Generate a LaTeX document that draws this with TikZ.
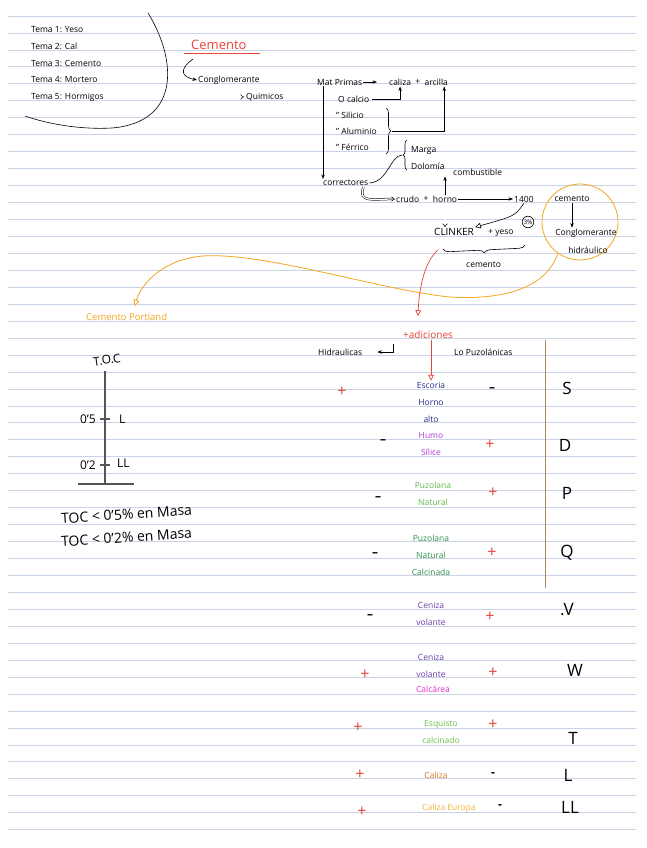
\documentclass[tikz,border=0pt]{standalone}
\usepackage{fontspec}
\setmainfont{Open Sans}
\usepackage{xcolor}
\definecolor{cRule}{HTML}{C9D3E6}
\definecolor{cRed}{HTML}{E8433A}
\definecolor{cOrange}{HTML}{F5A623}
\definecolor{cBrown}{HTML}{A5865F}
\definecolor{cAxis}{HTML}{555555}
\definecolor{cEsc}{HTML}{2B2B8F}
\definecolor{cHumo}{HTML}{B43BD6}
\definecolor{cPuzA}{HTML}{5DBB4C}
\definecolor{cPuzB}{HTML}{2F8F4E}
\definecolor{cCen}{HTML}{6A3FA8}
\definecolor{cCalc}{HTML}{E62BD0}
\definecolor{cEsq}{HTML}{6CC24A}
\definecolor{cCaliza}{HTML}{D77B2C}
\definecolor{cEur}{HTML}{F2B630}
\usetikzlibrary{positioning,arrows.meta,decorations.pathreplacing,calc}
\newcommand\notesize{\fontsize{8.5}{10}\selectfont}
\tikzset{
  rule/.style={draw=cRule,line width=0.7pt},
  ink/.style={draw=black,line width=0.6pt},
  note/.style={font=\notesize,inner sep=1pt,anchor=west},
  mid/.style={font=\notesize,inner sep=1pt},
  rowtext/.style={font=\fontsize{8.5}{17}\selectfont,inner sep=1pt,align=center},
  title/.style={font=\fontsize{13}{14}\selectfont,text=cRed,inner sep=1pt,anchor=west},
  red-text/.style={font=\fontsize{10}{12}\selectfont,text=cRed,inner sep=1pt,anchor=west},
  orange-text/.style={font=\fontsize{9.5}{11}\selectfont,text=cOrange,inner sep=1pt,anchor=west},
  bigletter/.style={font=\fontsize{17}{17}\selectfont,inner sep=0pt},
  mednote/.style={font=\fontsize{12}{13}\selectfont,inner sep=1pt},
  toc-text/.style={font=\fontsize{14}{15}\selectfont,inner sep=1pt,anchor=west},
  plus/.style={text=cRed,font=\fontsize{16}{16}\selectfont,inner sep=0pt},
  minus/.style={font=\fontsize{12}{12}\selectfont\bfseries,inner sep=0pt},
  arrow/.style={-{Stealth[length=1.6mm]},ink},
  arrow-open/.style={-{Triangle[open,length=2mm,width=2mm]},ink},
  dbl/.style={double,double distance=1.3pt,line width=0.5pt,-{Implies}},
  red-line/.style={draw=cRed,line width=0.7pt},
  red-arrow/.style={red-line,-{Triangle[open,length=2mm,width=2mm]}},
  or-arrow/.style={draw=cOrange,line width=0.8pt,-{Triangle[open,length=2.2mm,width=2.2mm]}},
  ring/.style={circle,draw=cOrange,line width=0.8pt,minimum size=76pt,inner sep=0pt},
  pct/.style={circle,draw,line width=0.6pt,font=\fontsize{6}{6}\selectfont,inner sep=0.8pt},
  axis/.style={draw=cAxis,line width=1.2pt},
  sep/.style={draw=cBrown,line width=0.9pt},
}
\begin{document}
\begin{tikzpicture}[x=1pt,y=-1pt]
  \useasboundingbox[fill=white] (0,0) rectangle (646,848);
  % renglones
  \foreach \k in {0,...,48}
    \draw[rule] (8,{16+16.95*\k}) -- (636,{16+16.95*\k});

  % temas
  \node[note] (t1) at (30,30) {Tema 1: Yeso};
  \node[note] (t2) at (30,46) {Tema 2: Cal};
  \node[note] (t3) at (30,63) {Tema 3: Cemento};
  \node[note] (t4) at (30,80) {Tema 4: Mortero};
  \node[note] (t5) at (30,97) {Tema 5: Hormigos};
  \draw[ink] (148,13) .. controls (176,58) and (182,122) .. (112,128)
    .. controls (75,130) and (42,122) .. (25,116);

  % cemento
  \node[title] (cem) at (190,45) {Cemento};
  \draw[red-line] ([xshift=-6pt,yshift=-2pt]cem.south west) -- ([xshift=12pt,yshift=-2pt]cem.south east);
  \node[note] (conglo) at (197,80) {Conglomerante};
  \node[note] (quim) at (245,97) {Quimicos};
  \coordinate (hook) at (193,59);
  \draw[arrow] (hook) .. controls (178,70) and (182,77) .. (conglo.west);
  \draw[dbl] ([xshift=-11pt,yshift=4pt]quim.north west) -- ([xshift=-11pt]quim.west) -- ([xshift=-1pt]quim.west);

  % materias primas
  \node[note] (mat) at (316,82) {Mat Primas};
  \node[note] (caliza) at (388,82) {caliza};
  \node[note,right=2pt of caliza] (plusA) {+};
  \node[note,right=2pt of plusA] (arcilla) {arcilla};
  \draw[arrow,shorten >=11pt] (mat.east) -- (caliza.west);
  \node[note] (ocal) at (337,99) {O calcio};
  \node[note] (sil) at (335,115) {" Silicio};
  \node[note] (alu) at (335,131) {" Aluminio};
  \node[note] (fer) at (335,147) {" Férrico};
  \draw[arrow] ([xshift=2pt]ocal.east) -| (caliza.south);
  \coordinate (bsA) at (386,108);
  \coordinate (bsB) at (386,154);
  \draw[ink,decorate,decoration={brace,amplitude=5pt}] (bsA) -- (bsB);
  \coordinate (bsT) at (392,131);
  \draw[arrow] (bsT) -| ([xshift=8pt]arcilla.south);

  % correctores
  \node[note] (corr) at (322,183) {correctores};
  \draw[arrow] ([xshift=7pt]mat.south west) -- ([xshift=1pt]corr.north west);
  \node[note] (marga) at (410,150) {Marga};
  \node[note] (dolo) at (410,166) {Dolomía};
  \draw[ink,decorate,decoration={brace,amplitude=4pt}] (407,170) -- (407,140);
  \coordinate (bmT) at (402,155);
  \draw[ink] (corr.east) .. controls (388,182) and (390,156) .. (bmT);

  % horno y clinker
  \node[note] (crudo) at (395,199) {crudo};
  \node[note,right=2pt of crudo] (plusB) {+};
  \node[note,right=2pt of plusB] (horno) {horno};
  \node[note] (temp) at (513,199) {1400};
  \node[note] (comb) at (452,172) {combustible};
  \draw[arrow] (horno.east) -- (temp.west);
  \draw[arrow] (horno.north) -- (horno.north |- comb.south);
  \draw[dbl] ([xshift=-6pt]corr.south east) .. controls (358,203) and (372,199) .. (crudo.west);
  \node[note,font=\fontsize{10}{11}\selectfont] (clinker) at (433,232) {CLINKER};
  \node[note] (yeso) at (487,233) {+ yeso};
  \node[pct] (pct) at (528,222) {3\%};
  \draw[dbl] (horno.south) -- (horno.south |- clinker.north);
  \draw[arrow-open] (temp.south) .. controls (515,216) .. (clinker.north east);
  \draw[ink,decorate,decoration={brace,amplitude=6pt}] (525,245) -- (443,249);
  \node[note] (cemB) at (465,265) {cemento};

  % conglomerante hidraulico
  \node[ring] (ring) at (580,222) {};
  \node[mid] (cemC) at (572,199) {cemento};
  \node[mid] (congloB) at (586,233) {Conglomerante};
  \node[mid] (hidra) at (588,250) {hidráulico};
  \draw[arrow] (cemC.south) -- (cemC.south |- congloB.north);
  \node[orange-text] (portland) at (85,317) {Cemento Portland};
  \draw[or-arrow] (ring.235) .. controls (545,290) and (500,300) .. (450,297)
    .. controls (380,290) and (265,252) .. (203,256)
    .. controls (165,259) and (142,282) .. ([xshift=8pt,yshift=6pt]portland.north);

  % adiciones
  \node[red-text] (adic) at (402,335) {+adiciones};
  \coordinate (redS) at (438,250);
  \draw[red-arrow] (redS) .. controls (424,262) and (419,290) .. ([xshift=16pt,yshift=14pt]adic.north west);
  \node[note] (hidraul) at (317,352) {Hidraulicas};
  \node[note] (puzol) at (453,352) {Lo Puzolánicas};
  \draw[arrow,shorten >=14pt] ([xshift=30pt,yshift=8pt]hidraul.east) |- (hidraul.east);
  \draw[sep] (545,340) -- (545,588);

  % tipos de adicion
  \node[rowtext,text=cEsc] (esc) at (431,402) {Escoria\\Horno\\alto};
  \node[rowtext,text=cHumo] (humo) at (431,444) {Humo\\Sílice};
  \node[rowtext,text=cPuzA] (puzA) at (433,494) {Puzolana\\Natural};
  \node[rowtext,text=cPuzB] (puzB) at (431,555) {Puzolana\\Natural\\Calcinada};
  \node[rowtext,text=cCen] (cenA) at (431,614) {Ceniza\\volante};
  \node[rowtext,text=cCen] (cenB) at (431,666) {Ceniza\\volante};
  \node[rowtext,text=cCalc] (calc) at (433,689) {Calcárea};
  \node[rowtext,text=cEsq] (esq) at (441,732) {Esquisto\\calcinado};
  \node[rowtext,text=cCaliza] (cal) at (436,775) {Caliza};
  \node[rowtext,text=cEur] (eur) at (449,808) {Caliza Europa};
  \draw[red-arrow] ([xshift=3pt]adic.south) -- ([xshift=3pt]adic.south |- esc.north);

  % signos
  \node[plus] (sL) at (342,392) {+};
  \node[minus] (sR) at (492,390) {–};
  \node[minus] (dL) at (383,442) {–};
  \node[plus] (dR) at (490,445) {+};
  \node[minus] (pL) at (378,499) {–};
  \node[plus] (pR) at (493,493) {+};
  \node[minus] (qL) at (375,555) {–};
  \node[plus] (qR) at (492,553) {+};
  \node[minus] (vL) at (370,617) {–};
  \node[plus] (vR) at (490,617) {+};
  \node[plus] (wL) at (365,675) {+};
  \node[plus] (wR) at (493,673) {+};
  \node[plus] (tL) at (358,728) {+};
  \node[plus] (tR) at (493,725) {+};
  \node[plus] (lL) at (360,775) {+};
  \node[minus] (lR) at (493,775) {-};
  \node[plus] (llL) at (362,812) {+};
  \node[minus] (llR) at (500,807) {-};

  % designaciones
  \node[bigletter] (tS) at (567,388) {S};
  \node[bigletter] (tD) at (565,445) {D};
  \node[bigletter] (tP) at (567,493) {P};
  \node[bigletter] (tQ) at (567,553) {Q};
  \node[bigletter] (tV) at (567,610) {.V};
  \node[bigletter] (tW) at (575,670) {W};
  \node[bigletter] (tT) at (573,738) {T};
  \node[bigletter] (tL) at (568,775) {L};
  \node[bigletter] (tLL) at (570,807) {LL};

  % contenido organico
  \node[mednote,rotate=8] (toc) at (107,360) {T.O.C};
  \coordinate (axbot) at (105,484);
  \draw[axis,shorten <=5pt] (toc.south -| axbot) -- (axbot);
  \draw[axis] (78,484) -- (134,484);
  \draw[axis] (100,419) -- (110,419);
  \draw[axis] (100,465) -- (110,465);
  \node[mednote,anchor=east] (v05) at (97,419) {0'5};
  \node[mednote,anchor=west] (lab05) at (118,419) {L};
  \node[mednote,anchor=east] (v02) at (97,465) {0'2};
  \node[mednote,anchor=west] (lab02) at (116,463) {LL};
  \node[toc-text,rotate=4] (tocA) at (60,519) {TOC < 0'5\% en Masa};
  \node[toc-text,rotate=4] (tocB) at (60,542) {TOC < 0'2\% en Masa};
\end{tikzpicture}
\end{document}
